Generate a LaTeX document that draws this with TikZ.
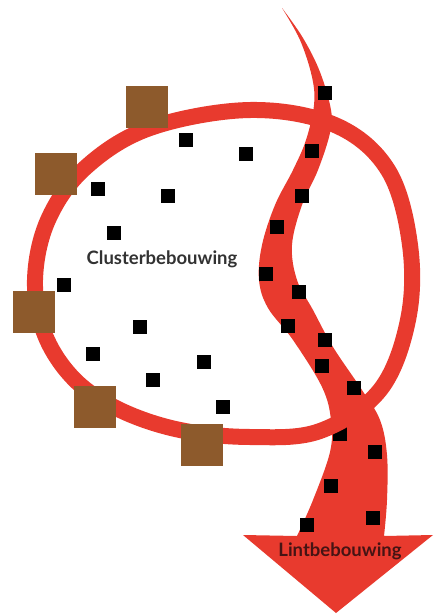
\documentclass[tikz,border=0pt]{standalone}
\usepackage{fontspec}
\setmainfont{Lato}
\definecolor{ribred}{RGB}{232,58,46}
\definecolor{hbrown}{RGB}{141,90,44}
\definecolor{txtgray}{RGB}{50,50,50}
\definecolor{txtdark}{RGB}{70,20,20}
\tikzset{
  house/.style={fill=black, minimum size=14pt, inner sep=0pt, outer sep=0pt},
  farm/.style={fill=hbrown, minimum size=42pt, inner sep=0pt, outer sep=0pt},
  lbl/.style={font=\bfseries\fontsize{18.5}{20}\selectfont, inner sep=0pt}
}
\begin{document}
\begin{tikzpicture}[x=1pt,y=-1pt]
\useasboundingbox (0,0) rectangle (434,616);
% ribbon (Lintbebouwing)
\fill[ribred] plot[smooth, tension=0.6] coordinates {(282,8) (303,38) (320,72) (331,110) (330,133) (318,170) (302,205) (292,245) (297,280) (313,310) (333,347) (362,390) (380,420) (387,455) (387,500) (384,536)}
  -- (433,535) -- (336,613) -- (243,535) -- (297,536)
  -- plot[smooth, tension=0.6] coordinates {(297,536) (313,500) (330,452) (331,420) (322,387) (293,340) (268,308) (259,280) (262,245) (275,205) (293,170) (306,140) (314,105) (312,77) (300,40) (282,8)} -- cycle;
\node[house] (h15) at (340,434) {};
% ring (Clusterbebouwing)
\draw[ribred, line width=16pt] plot[smooth cycle, tension=0.6] coordinates {(250,110) (335,125) (388,170) (410,245) (408,320) (380,390) (320,431) (250,437) (180,430) (120,410) (75,380) (45,335) (35,280) (48,220) (85,168) (150,128)};
% houses in the ribbon
\node[house] (h1) at (325,93) {};
\node[house] (h2) at (312,151) {};
\node[house] (h3) at (302,196) {};
\node[house] (h4) at (277,227) {};
\node[house] (h5) at (266,274) {};
\node[house] (h6) at (299,292) {};
\node[house] (h7) at (288,326) {};
\node[house] (h8) at (325,340) {};
\node[house] (h9) at (322,366) {};
\node[house] (h10) at (354,388) {};
\node[house] (h11) at (375,452) {};
\node[house] (h12) at (331,486) {};
\node[house] (h13) at (373,518) {};
\node[house] (h14) at (307,525) {};
% houses in the cluster
\node[house] (c1) at (186,140) {};
\node[house] (c2) at (246,154) {};
\node[house] (c3) at (98,189) {};
\node[house] (c4) at (168,196) {};
\node[house] (c5) at (114,233) {};
\node[house] (c6) at (64,285) {};
\node[house] (c7) at (140,327) {};
\node[house] (c8) at (93,354) {};
\node[house] (c9) at (204,362) {};
\node[house] (c10) at (153,380) {};
\node[house] (c11) at (223,407) {};
% farms on the ring
\node[farm] (f1) at (147,107) {};
\node[farm] (f2) at (56,174) {};
\node[farm] (f3) at (34,312) {};
\node[farm] (f4) at (95,407) {};
\node[farm] (f5) at (202,445) {};
% labels
\node[lbl, text=txtgray] (tc) at (162,259) {Clusterbebouwing};
\node[lbl, text=txtdark] (tl) at (340,551) {Lintbebouwing};
\end{tikzpicture}
\end{document}
